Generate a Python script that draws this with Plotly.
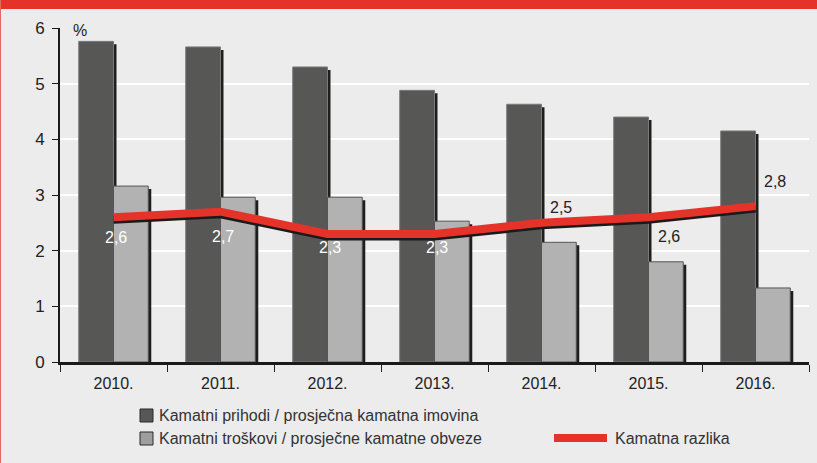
import plotly.graph_objects as go

years = ["2010.", "2011.", "2012.", "2013.", "2014.", "2015.", "2016."]
prihodi = [5.76, 5.66, 5.30, 4.88, 4.63, 4.40, 4.15]
troskovi = [3.16, 2.96, 2.96, 2.53, 2.15, 1.80, 1.33]
razlika = [2.6, 2.7, 2.3, 2.3, 2.5, 2.6, 2.8]

name_prihodi = "Kamatni prihodi / prosječna kamatna imovina"
name_troskovi = "Kamatni troškovi / prosječne kamatne obveze"
name_razlika = "Kamatna razlika"

# label styling: (xshift, yshift, color)
label_style = [(2, -20, "white"), (2, -25, "white"), (2, -14, "white"), (2, -14, "white"),
               (19, 15, "#222222"), (20, -19, "#222222"), (19, 25, "#222222")]

FONT = "Liberation Sans, Arial, sans-serif"
DARK = "#575756"
LIGHT = "#b2b2b2"
RED = "#e5332a"
BG = "#ececec"

L, R, T, B = 60, 8, 28, 101
W, H = 817, 463
pw, ph = W - L - R, H - T - B


def px(xp):
    return (xp - L) / pw


def py(yp):
    return (H - B - yp) / ph


bw = 0.325
sx = 0.028  # shadow x offset (category units)
sy = 0.054  # shadow y offset (value units)

fig = go.Figure()
# dark bars with shadow
fig.add_trace(go.Bar(x=years, y=prihodi, base=-sy, width=bw, offset=-bw + sx,
                     marker=dict(color="#1e1e1e", line=dict(width=0)), hoverinfo="skip", showlegend=False))
fig.add_trace(go.Bar(x=years, y=prihodi, width=bw, offset=-bw, name=name_prihodi,
                     marker=dict(color=DARK, line=dict(color="#7a7a7a", width=1)), showlegend=False))
fig.add_trace(go.Bar(x=years, y=troskovi, base=-sy, width=bw, offset=sx,
                     marker=dict(color="#1e1e1e", line=dict(width=0)), hoverinfo="skip", showlegend=False))
fig.add_trace(go.Bar(x=years, y=troskovi, width=bw, offset=0, name=name_troskovi,
                     marker=dict(color=LIGHT, line=dict(color="#555555", width=1)), showlegend=False))
# line shadow on shifted axis, red line on top axis
fig.add_trace(go.Scatter(x=years, y=razlika, mode="lines", yaxis="y2",
                         line=dict(color="#1a1a1a", width=8), hoverinfo="skip", showlegend=False))
fig.add_trace(go.Scatter(x=years, y=razlika, mode="lines", name=name_razlika, yaxis="y3",
                         line=dict(color=RED, width=8), showlegend=False))

annotations = []
for i, (v, (xs, ys, c)) in enumerate(zip(razlika, label_style)):
    annotations.append(dict(x=i, y=v, xref="x", yref="y", text=f"{v:.1f}".replace(".", ","),
                            showarrow=False, xshift=xs, yshift=ys,
                            font=dict(family=FONT, size=16, color=c)))
annotations.append(dict(x=px(71), y=py(20), xref="paper", yref="paper", text="%", showarrow=False,
                        xanchor="left", font=dict(family=FONT, size=16, color="#222222")))
# custom legend texts
LEG_FONT = dict(family=FONT, size=16, color="#333333")
annotations.append(dict(x=px(157), y=py(415), xref="paper", yref="paper", text=name_prihodi,
                        showarrow=False, xanchor="left", yanchor="middle", font=LEG_FONT))
annotations.append(dict(x=px(157), y=py(438), xref="paper", yref="paper", text=name_troskovi,
                        showarrow=False, xanchor="left", yanchor="middle", font=LEG_FONT))
annotations.append(dict(x=px(613), y=py(438), xref="paper", yref="paper", text=name_razlika,
                        showarrow=False, xanchor="left", yanchor="middle", font=LEG_FONT))

shapes = [
    # top red band
    dict(type="rect", xref="paper", yref="paper", x0=px(0), x1=px(W), y0=py(9), y1=py(0),
         fillcolor=RED, line=dict(width=0), layer="above"),
    # left thin border
    dict(type="line", xref="paper", yref="paper", x0=px(0.5), x1=px(0.5), y0=py(H), y1=py(0),
         line=dict(color="#e06a64", width=1)),
    # legend symbols
    dict(type="rect", xref="paper", yref="paper", x0=px(140), x1=px(153), y0=py(422), y1=py(409),
         fillcolor=DARK, line=dict(color="#2a2a2a", width=1)),
    dict(type="rect", xref="paper", yref="paper", x0=px(140), x1=px(153), y0=py(445), y1=py(432),
         fillcolor="#9e9e9e", line=dict(color="#2a2a2a", width=1)),
    dict(type="rect", xref="paper", yref="paper", x0=px(554), x1=px(607), y0=py(442), y1=py(434),
         fillcolor=RED, line=dict(width=0)),
]

fig.update_layout(
    width=W, height=H,
    margin=dict(l=L, r=R, t=T, b=B),
    paper_bgcolor=BG, plot_bgcolor=BG,
    barmode="overlay",
    font=dict(family=FONT, color="#222222"),
    xaxis=dict(type="category", range=[-0.5, 6.5], showgrid=False, tickson="boundaries",
               ticks="outside", ticklen=7, tickwidth=1, tickcolor="#222222",
               showline=True, linecolor="#1a1a1a", linewidth=3, ticklabelstandoff=5,
               tickfont=dict(size=16, color="#222222")),
    yaxis=dict(range=[0, 6], dtick=1, showgrid=True, gridcolor="white", gridwidth=2,
               zeroline=False, showline=True, linecolor="#1a1a1a", linewidth=2,
               ticks="outside", ticklen=6, tickcolor="#1a1a1a", ticklabelstandoff=4,
               tickfont=dict(size=17, color="#222222")),
    yaxis2=dict(range=[0.045, 6.045], overlaying="y", visible=False),
    yaxis3=dict(range=[0, 6], overlaying="y", visible=False),
    annotations=annotations,
    shapes=shapes,
    showlegend=False,
)

fig.write_html("out.html", config={"displayModeBar": False},
               post_script="document.body.style.margin='0px';")
